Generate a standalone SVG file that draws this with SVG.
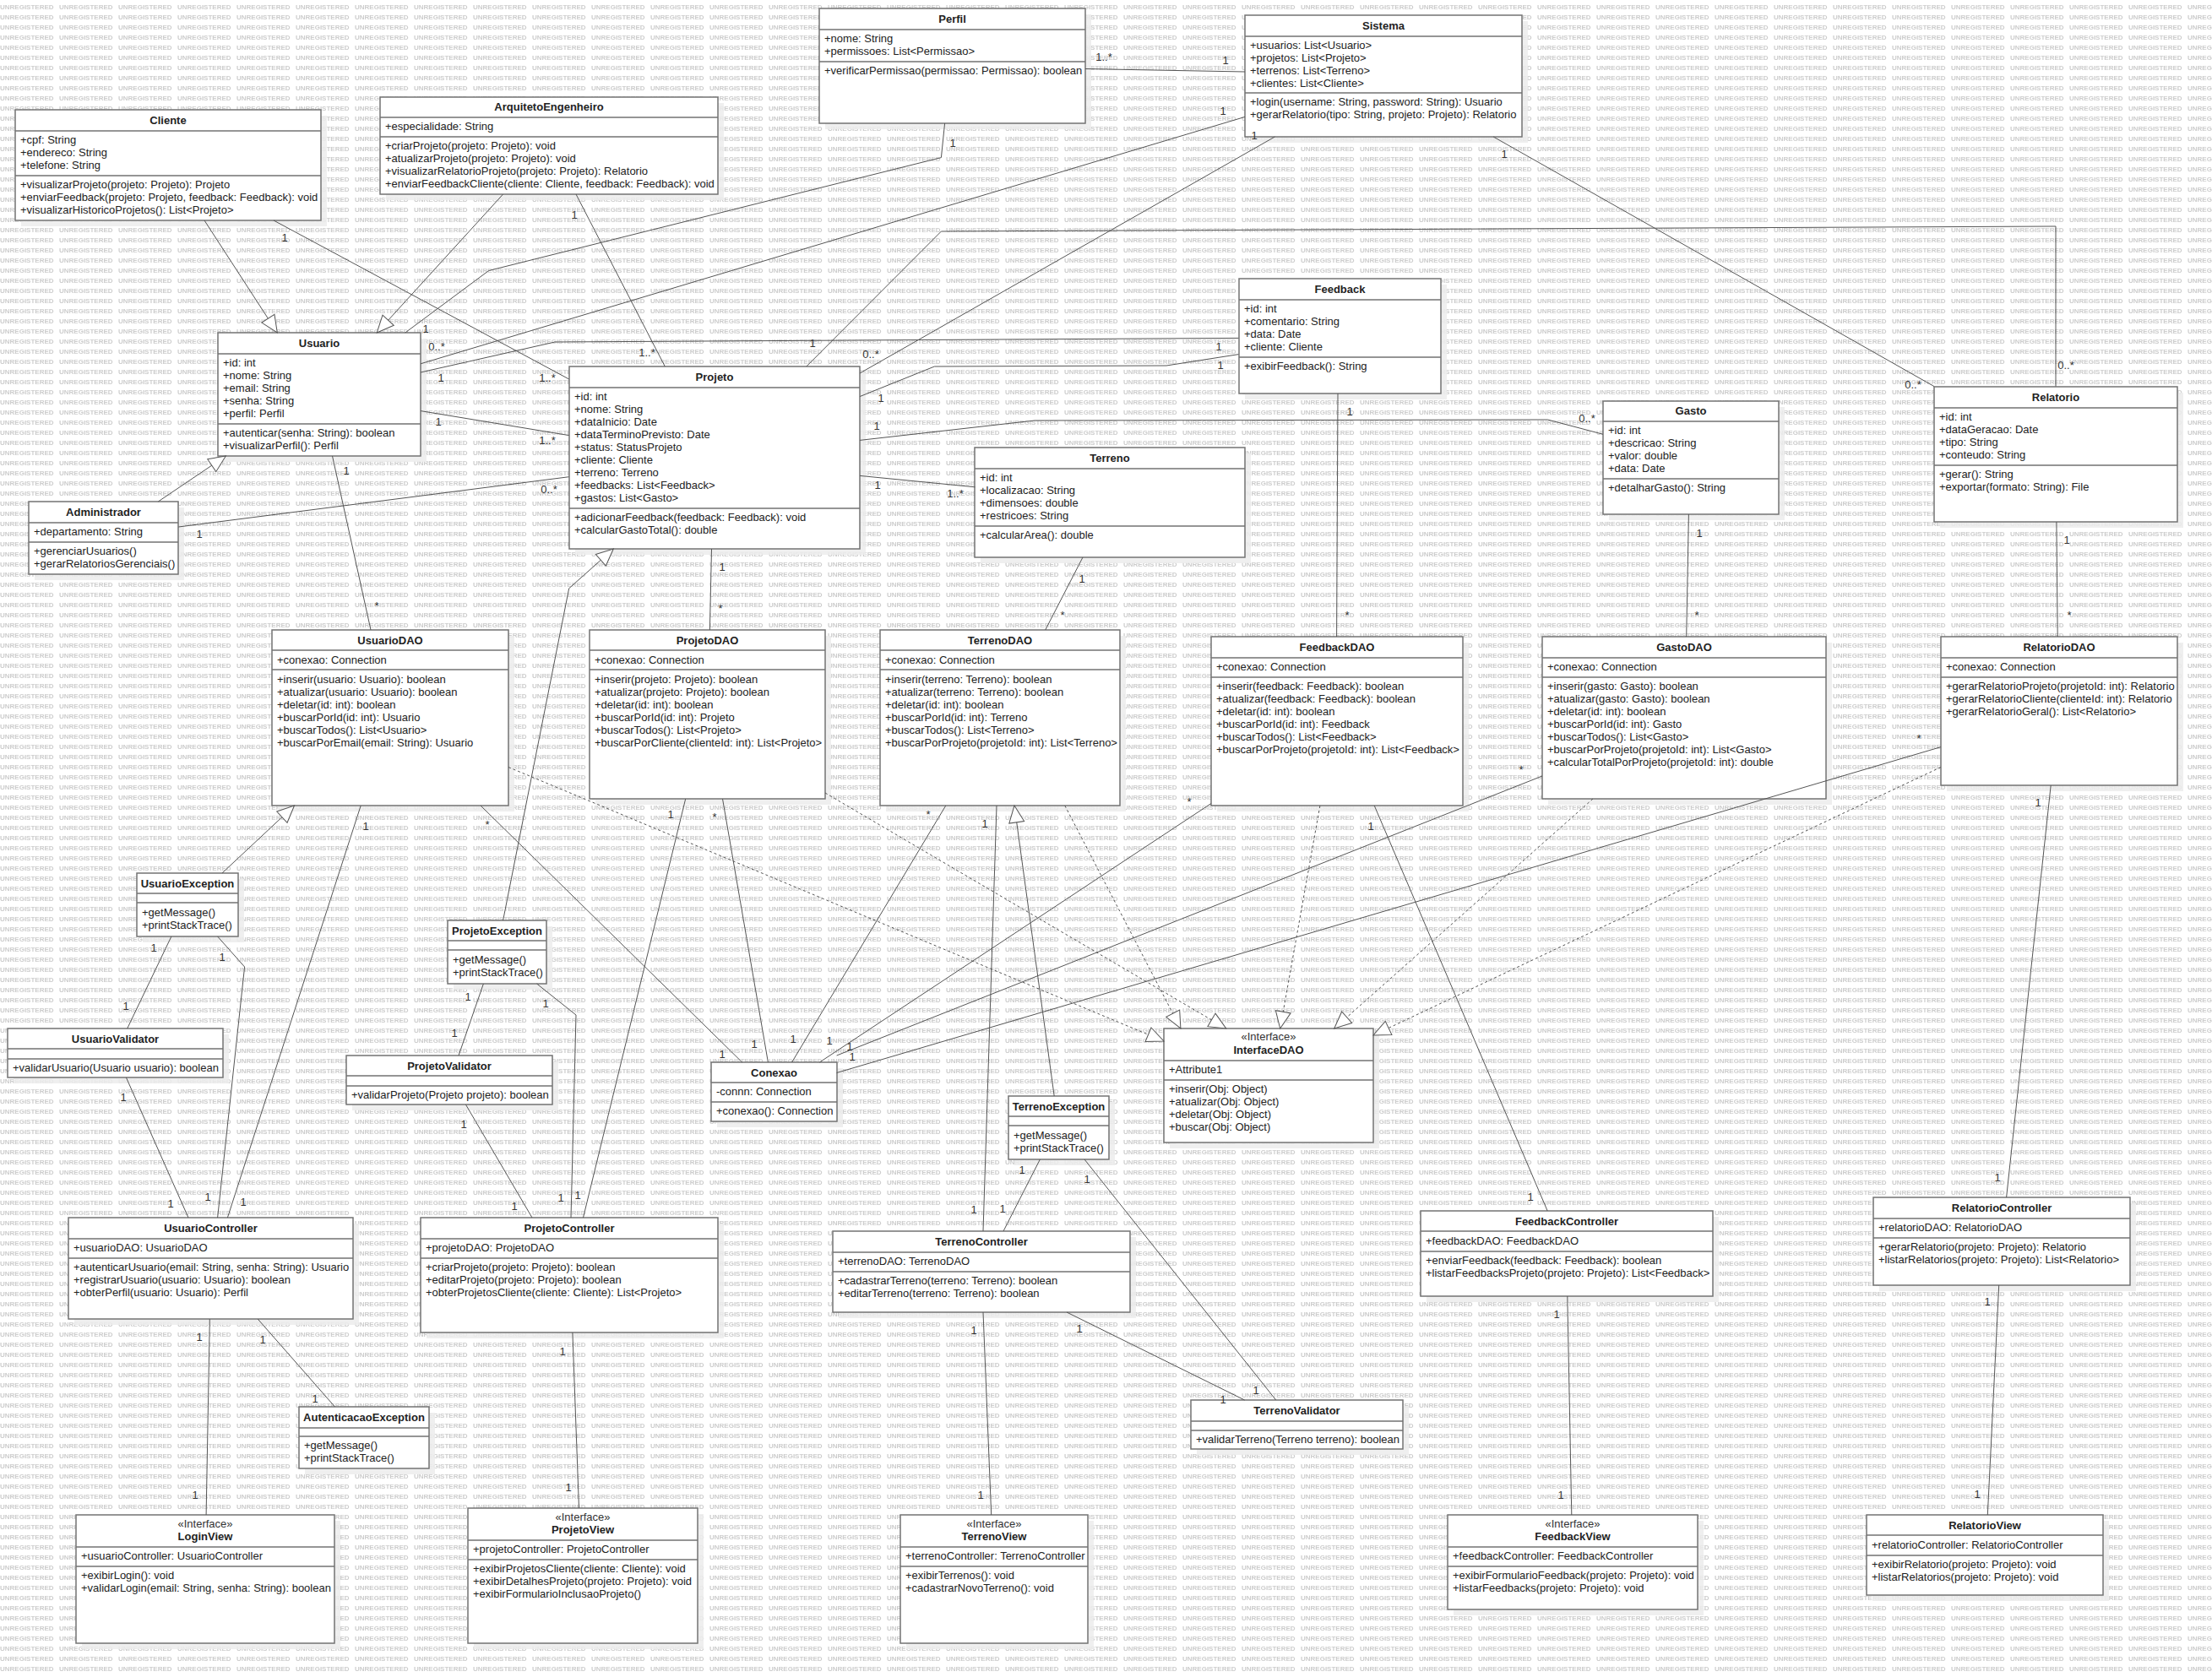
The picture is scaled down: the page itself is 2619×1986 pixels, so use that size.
<svg xmlns="http://www.w3.org/2000/svg" width="2619" height="1986" viewBox="0 0 2619 1986" font-family="'Liberation Sans', Arial, sans-serif" font-size="13">
<defs>
  <pattern id="wm" width="70" height="12" patternUnits="userSpaceOnUse">
    <text x="0" y="11" font-size="8" font-weight="bold" fill="#cdcdcd">UNREGISTERED</text>
  </pattern>
  <marker id="tri" markerUnits="userSpaceOnUse" markerWidth="24" markerHeight="24" viewBox="0 0 24 24" refX="22" refY="12" orient="auto">
    <path d="M2,3 L22,12 L2,21 Z" fill="#fff" stroke="#555" stroke-width="1" stroke-dasharray="none"/>
  </marker>
</defs>
<style>
  .sh { fill: #ececec; opacity: 0.85; }
  .bx { fill: #fff; stroke: #737373; stroke-width: 1.5; }
  .sep { stroke: #737373; stroke-width: 1.5; fill: none; }
  .nm { font-weight: bold; text-anchor: middle; fill: #222; }
  .st { text-anchor: middle; fill: #333; }
  .tx { fill: #222; }
  .c { fill: none; stroke: #555; stroke-width: 1; }
  .g { marker-end: url(#tri); }
  .d { stroke-dasharray: 3 3; marker-end: url(#tri); }
  .ml text { text-anchor: middle; fill: #333; font-size: 13px; }
</style>

<rect width="2619" height="1986" fill="#fff"/>
<rect width="2619" height="1986" fill="url(#wm)"/>

<!-- ===== class boxes ===== -->
<g id="Perfil">
  <rect class="sh" x="977" y="17" width="315" height="136"/>
  <rect class="bx" x="970" y="10" width="315" height="136"/>
  <path class="sep" d="M970,35H1285M970,73H1285"/>
  <text class="nm" x="1127.5" y="27">Perfil</text>
  <text class="tx"><tspan x="976" y="50">+nome: String</tspan><tspan x="976" y="65">+permissoes: List&lt;Permissao&gt;</tspan></text>
  <text class="tx"><tspan x="976" y="88">+verificarPermissao(permissao: Permissao): boolean</tspan></text>
</g>

<g id="Sistema">
  <rect class="sh" x="1481" y="25" width="328" height="144"/>
  <rect class="bx" x="1474" y="18" width="328" height="144"/>
  <path class="sep" d="M1474,43H1802M1474,110H1802"/>
  <text class="nm" x="1638" y="35">Sistema</text>
  <text class="tx"><tspan x="1480" y="58">+usuarios: List&lt;Usuario&gt;</tspan><tspan x="1480" y="73">+projetos: List&lt;Projeto&gt;</tspan><tspan x="1480" y="88">+terrenos: List&lt;Terreno&gt;</tspan><tspan x="1480" y="103">+clientes: List&lt;Cliente&gt;</tspan></text>
  <text class="tx"><tspan x="1480" y="125">+login(username: String, password: String): Usuario</tspan><tspan x="1480" y="140">+gerarRelatorio(tipo: String, projeto: Projeto): Relatorio</tspan></text>
</g>

<g id="ArquitetoEngenheiro">
  <rect class="sh" x="457" y="122" width="400" height="115"/>
  <rect class="bx" x="450" y="115" width="400" height="115"/>
  <path class="sep" d="M450,139H850M450,162H850"/>
  <text class="nm" x="650" y="131">ArquitetoEngenheiro</text>
  <text class="tx"><tspan x="456" y="154">+especialidade: String</tspan></text>
  <text class="tx"><tspan x="456" y="177">+criarProjeto(projeto: Projeto): void</tspan><tspan x="456" y="192">+atualizarProjeto(projeto: Projeto): void</tspan><tspan x="456" y="207">+visualizarRelatorioProjeto(projeto: Projeto): Relatorio</tspan><tspan x="456" y="222">+enviarFeedbackCliente(cliente: Cliente, feedback: Feedback): void</tspan></text>
</g>

<g id="Cliente">
  <rect class="sh" x="25" y="137" width="362" height="131"/>
  <rect class="bx" x="18" y="130" width="362" height="131"/>
  <path class="sep" d="M18,155H380M18,208H380"/>
  <text class="nm" x="199" y="147">Cliente</text>
  <text class="tx"><tspan x="24" y="170">+cpf: String</tspan><tspan x="24" y="185">+endereco: String</tspan><tspan x="24" y="200">+telefone: String</tspan></text>
  <text class="tx"><tspan x="24" y="223">+visualizarProjeto(projeto: Projeto): Projeto</tspan><tspan x="24" y="238">+enviarFeedback(projeto: Projeto, feedback: Feedback): void</tspan><tspan x="24" y="253">+visualizarHistoricoProjetos(): List&lt;Projeto&gt;</tspan></text>
</g>

<g id="Usuario">
  <rect class="sh" x="265" y="401" width="240" height="146"/>
  <rect class="bx" x="258" y="394" width="240" height="146"/>
  <path class="sep" d="M258,419H498M258,502H498"/>
  <text class="nm" x="378" y="411">Usuario</text>
  <text class="tx"><tspan x="264" y="434">+id: int</tspan><tspan x="264" y="449">+nome: String</tspan><tspan x="264" y="464">+email: String</tspan><tspan x="264" y="479">+senha: String</tspan><tspan x="264" y="494">+perfil: Perfil</tspan></text>
  <text class="tx"><tspan x="264" y="517">+autenticar(senha: String): boolean</tspan><tspan x="264" y="532">+visualizarPerfil(): Perfil</tspan></text>
</g>

<g id="Administrador">
  <rect class="sh" x="41" y="601" width="177" height="86"/>
  <rect class="bx" x="34" y="594" width="177" height="86"/>
  <path class="sep" d="M34,619H211M34,642H211"/>
  <text class="nm" x="122.5" y="611">Administrador</text>
  <text class="tx"><tspan x="40" y="634">+departamento: String</tspan></text>
  <text class="tx"><tspan x="40" y="657">+gerenciarUsuarios()</tspan><tspan x="40" y="672">+gerarRelatoriosGerenciais()</tspan></text>
</g>

<g id="Projeto">
  <rect class="sh" x="681" y="441" width="344" height="216"/>
  <rect class="bx" x="674" y="434" width="344" height="216"/>
  <path class="sep" d="M674,459H1018M674,602H1018"/>
  <text class="nm" x="846" y="451">Projeto</text>
  <text class="tx"><tspan x="680" y="474">+id: int</tspan><tspan x="680" y="489">+nome: String</tspan><tspan x="680" y="504">+dataInicio: Date</tspan><tspan x="680" y="519">+dataTerminoPrevisto: Date</tspan><tspan x="680" y="534">+status: StatusProjeto</tspan><tspan x="680" y="549">+cliente: Cliente</tspan><tspan x="680" y="564">+terreno: Terreno</tspan><tspan x="680" y="579">+feedbacks: List&lt;Feedback&gt;</tspan><tspan x="680" y="594">+gastos: List&lt;Gasto&gt;</tspan></text>
  <text class="tx"><tspan x="680" y="617">+adicionarFeedback(feedback: Feedback): void</tspan><tspan x="680" y="632">+calcularGastoTotal(): double</tspan></text>
</g>

<g id="Feedback">
  <rect class="sh" x="1474" y="337" width="239" height="136"/>
  <rect class="bx" x="1467" y="330" width="239" height="136"/>
  <path class="sep" d="M1467,355H1706M1467,423H1706"/>
  <text class="nm" x="1586.5" y="347">Feedback</text>
  <text class="tx"><tspan x="1473" y="370">+id: int</tspan><tspan x="1473" y="385">+comentario: String</tspan><tspan x="1473" y="400">+data: Date</tspan><tspan x="1473" y="415">+cliente: Cliente</tspan></text>
  <text class="tx"><tspan x="1473" y="438">+exibirFeedback(): String</tspan></text>
</g>

<g id="Terreno">
  <rect class="sh" x="1161" y="537" width="320" height="130"/>
  <rect class="bx" x="1154" y="530" width="320" height="130"/>
  <path class="sep" d="M1154,555H1474M1154,623H1474"/>
  <text class="nm" x="1314" y="547">Terreno</text>
  <text class="tx"><tspan x="1160" y="570">+id: int</tspan><tspan x="1160" y="585">+localizacao: String</tspan><tspan x="1160" y="600">+dimensoes: double</tspan><tspan x="1160" y="615">+restricoes: String</tspan></text>
  <text class="tx"><tspan x="1160" y="638">+calcularArea(): double</tspan></text>
</g>

<g id="Gasto">
  <rect class="sh" x="1905" y="482" width="208" height="134"/>
  <rect class="bx" x="1898" y="475" width="208" height="134"/>
  <path class="sep" d="M1898,499H2106M1898,567H2106"/>
  <text class="nm" x="2002" y="491">Gasto</text>
  <text class="tx"><tspan x="1904" y="514">+id: int</tspan><tspan x="1904" y="529">+descricao: String</tspan><tspan x="1904" y="544">+valor: double</tspan><tspan x="1904" y="559">+data: Date</tspan></text>
  <text class="tx"><tspan x="1904" y="582">+detalharGasto(): String</tspan></text>
</g>

<g id="Relatorio">
  <rect class="sh" x="2297" y="465" width="288" height="160"/>
  <rect class="bx" x="2290" y="458" width="288" height="160"/>
  <path class="sep" d="M2290,483H2578M2290,551H2578"/>
  <text class="nm" x="2434" y="475">Relatorio</text>
  <text class="tx"><tspan x="2296" y="498">+id: int</tspan><tspan x="2296" y="513">+dataGeracao: Date</tspan><tspan x="2296" y="528">+tipo: String</tspan><tspan x="2296" y="543">+conteudo: String</tspan></text>
  <text class="tx"><tspan x="2296" y="566">+gerar(): String</tspan><tspan x="2296" y="581">+exportar(formato: String): File</tspan></text>
</g>

<g id="UsuarioDAO">
  <rect class="sh" x="329" y="753" width="280" height="208"/>
  <rect class="bx" x="322" y="746" width="280" height="208"/>
  <path class="sep" d="M322,770H602M322,793H602"/>
  <text class="nm" x="462" y="763">UsuarioDAO</text>
  <text class="tx"><tspan x="328" y="786">+conexao: Connection</tspan></text>
  <text class="tx"><tspan x="328" y="809">+inserir(usuario: Usuario): boolean</tspan><tspan x="328" y="824">+atualizar(usuario: Usuario): boolean</tspan><tspan x="328" y="839">+deletar(id: int): boolean</tspan><tspan x="328" y="854">+buscarPorId(id: int): Usuario</tspan><tspan x="328" y="869">+buscarTodos(): List&lt;Usuario&gt;</tspan><tspan x="328" y="884">+buscarPorEmail(email: String): Usuario</tspan></text>
</g>

<g id="ProjetoDAO">
  <rect class="sh" x="705" y="753" width="279" height="200"/>
  <rect class="bx" x="698" y="746" width="279" height="200"/>
  <path class="sep" d="M698,770H977M698,793H977"/>
  <text class="nm" x="837.5" y="763">ProjetoDAO</text>
  <text class="tx"><tspan x="704" y="786">+conexao: Connection</tspan></text>
  <text class="tx"><tspan x="704" y="809">+inserir(projeto: Projeto): boolean</tspan><tspan x="704" y="824">+atualizar(projeto: Projeto): boolean</tspan><tspan x="704" y="839">+deletar(id: int): boolean</tspan><tspan x="704" y="854">+buscarPorId(id: int): Projeto</tspan><tspan x="704" y="869">+buscarTodos(): List&lt;Projeto&gt;</tspan><tspan x="704" y="884">+buscarPorCliente(clienteId: int): List&lt;Projeto&gt;</tspan></text>
</g>

<g id="TerrenoDAO">
  <rect class="sh" x="1049" y="753" width="284" height="208"/>
  <rect class="bx" x="1042" y="746" width="284" height="208"/>
  <path class="sep" d="M1042,770H1326M1042,793H1326"/>
  <text class="nm" x="1184" y="763">TerrenoDAO</text>
  <text class="tx"><tspan x="1048" y="786">+conexao: Connection</tspan></text>
  <text class="tx"><tspan x="1048" y="809">+inserir(terreno: Terreno): boolean</tspan><tspan x="1048" y="824">+atualizar(terreno: Terreno): boolean</tspan><tspan x="1048" y="839">+deletar(id: int): boolean</tspan><tspan x="1048" y="854">+buscarPorId(id: int): Terreno</tspan><tspan x="1048" y="869">+buscarTodos(): List&lt;Terreno&gt;</tspan><tspan x="1048" y="884">+buscarPorProjeto(projetoId: int): List&lt;Terreno&gt;</tspan></text>
</g>

<g id="FeedbackDAO">
  <rect class="sh" x="1441" y="761" width="298" height="200"/>
  <rect class="bx" x="1434" y="754" width="298" height="200"/>
  <path class="sep" d="M1434,779H1732M1434,802H1732"/>
  <text class="nm" x="1583" y="771">FeedbackDAO</text>
  <text class="tx"><tspan x="1440" y="794">+conexao: Connection</tspan></text>
  <text class="tx"><tspan x="1440" y="817">+inserir(feedback: Feedback): boolean</tspan><tspan x="1440" y="832">+atualizar(feedback: Feedback): boolean</tspan><tspan x="1440" y="847">+deletar(id: int): boolean</tspan><tspan x="1440" y="862">+buscarPorId(id: int): Feedback</tspan><tspan x="1440" y="877">+buscarTodos(): List&lt;Feedback&gt;</tspan><tspan x="1440" y="892">+buscarPorProjeto(projetoId: int): List&lt;Feedback&gt;</tspan></text>
</g>

<g id="GastoDAO">
  <rect class="sh" x="1833" y="761" width="336" height="192"/>
  <rect class="bx" x="1826" y="754" width="336" height="192"/>
  <path class="sep" d="M1826,779H2162M1826,802H2162"/>
  <text class="nm" x="1994" y="771">GastoDAO</text>
  <text class="tx"><tspan x="1832" y="794">+conexao: Connection</tspan></text>
  <text class="tx"><tspan x="1832" y="817">+inserir(gasto: Gasto): boolean</tspan><tspan x="1832" y="832">+atualizar(gasto: Gasto): boolean</tspan><tspan x="1832" y="847">+deletar(id: int): boolean</tspan><tspan x="1832" y="862">+buscarPorId(id: int): Gasto</tspan><tspan x="1832" y="877">+buscarTodos(): List&lt;Gasto&gt;</tspan><tspan x="1832" y="892">+buscarPorProjeto(projetoId: int): List&lt;Gasto&gt;</tspan><tspan x="1832" y="907">+calcularTotalPorProjeto(projetoId: int): double</tspan></text>
</g>

<g id="RelatorioDAO">
  <rect class="sh" x="2305" y="761" width="280" height="176"/>
  <rect class="bx" x="2298" y="754" width="280" height="176"/>
  <path class="sep" d="M2298,779H2578M2298,802H2578"/>
  <text class="nm" x="2438" y="771">RelatorioDAO</text>
  <text class="tx"><tspan x="2304" y="794">+conexao: Connection</tspan></text>
  <text class="tx"><tspan x="2304" y="817">+gerarRelatorioProjeto(projetoId: int): Relatorio</tspan><tspan x="2304" y="832">+gerarRelatorioCliente(clienteId: int): Relatorio</tspan><tspan x="2304" y="847">+gerarRelatorioGeral(): List&lt;Relatorio&gt;</tspan></text>
</g>

<g id="UsuarioException">
  <rect class="sh" x="169" y="1041" width="120" height="75"/>
  <rect class="bx" x="162" y="1034" width="120" height="75"/>
  <path class="sep" d="M162,1058H282M162,1069H282"/>
  <text class="nm" x="222" y="1051">UsuarioException</text>
  <text class="tx"><tspan x="168" y="1085">+getMessage()</tspan><tspan x="168" y="1100">+printStackTrace()</tspan></text>
</g>

<g id="ProjetoException">
  <rect class="sh" x="537" y="1097" width="117" height="75"/>
  <rect class="bx" x="530" y="1090" width="117" height="75"/>
  <path class="sep" d="M530,1114H647M530,1125H647"/>
  <text class="nm" x="588.5" y="1107">ProjetoException</text>
  <text class="tx"><tspan x="536" y="1141">+getMessage()</tspan><tspan x="536" y="1156">+printStackTrace()</tspan></text>
</g>

<g id="UsuarioValidator">
  <rect class="sh" x="16" y="1225" width="255" height="58"/>
  <rect class="bx" x="9" y="1218" width="255" height="58"/>
  <path class="sep" d="M9,1242H264M9,1254H264"/>
  <text class="nm" x="136.5" y="1235">UsuarioValidator</text>
  <text class="tx"><tspan x="15" y="1269">+validarUsuario(Usuario usuario): boolean</tspan></text>
</g>

<g id="ProjetoValidator">
  <rect class="sh" x="417" y="1257" width="244" height="58"/>
  <rect class="bx" x="410" y="1250" width="244" height="58"/>
  <path class="sep" d="M410,1274H654M410,1286H654"/>
  <text class="nm" x="532" y="1267">ProjetoValidator</text>
  <text class="tx"><tspan x="416" y="1301">+validarProjeto(Projeto projeto): boolean</tspan></text>
</g>

<g id="Conexao">
  <rect class="sh" x="849" y="1265" width="149" height="70"/>
  <rect class="bx" x="842" y="1258" width="149" height="70"/>
  <path class="sep" d="M842,1282H991M842,1305H991"/>
  <text class="nm" x="916.5" y="1275">Conexao</text>
  <text class="tx"><tspan x="848" y="1297">-connn: Connection</tspan></text>
  <text class="tx"><tspan x="848" y="1320">+conexao(): Connection</tspan></text>
</g>

<g id="InterfaceDAO">
  <rect class="sh" x="1385" y="1225" width="248" height="135"/>
  <rect class="bx" x="1378" y="1218" width="248" height="135"/>
  <path class="sep" d="M1378,1256H1626M1378,1279H1626"/>
  <text class="st" x="1502" y="1232">«Interface»</text>
  <text class="nm" x="1502" y="1248">InterfaceDAO</text>
  <text class="tx"><tspan x="1384" y="1271">+Attribute1</tspan></text>
  <text class="tx"><tspan x="1384" y="1294">+inserir(Obj: Object)</tspan><tspan x="1384" y="1309">+atualizar(Obj: Object)</tspan><tspan x="1384" y="1324">+deletar(Obj: Object)</tspan><tspan x="1384" y="1339">+buscar(Obj: Object)</tspan></text>
</g>

<g id="TerrenoException">
  <rect class="sh" x="1201" y="1305" width="119" height="75"/>
  <rect class="bx" x="1194" y="1298" width="119" height="75"/>
  <path class="sep" d="M1194,1322H1313M1194,1333H1313"/>
  <text class="nm" x="1253.5" y="1315">TerrenoException</text>
  <text class="tx"><tspan x="1200" y="1349">+getMessage()</tspan><tspan x="1200" y="1364">+printStackTrace()</tspan></text>
</g>

<g id="UsuarioController">
  <rect class="sh" x="88" y="1449" width="337" height="120"/>
  <rect class="bx" x="81" y="1442" width="337" height="120"/>
  <path class="sep" d="M81,1467H418M81,1490H418"/>
  <text class="nm" x="249.5" y="1459">UsuarioController</text>
  <text class="tx"><tspan x="87" y="1482">+usuarioDAO: UsuarioDAO</tspan></text>
  <text class="tx"><tspan x="87" y="1505">+autenticarUsuario(email: String, senha: String): Usuario</tspan><tspan x="87" y="1520">+registrarUsuario(usuario: Usuario): boolean</tspan><tspan x="87" y="1535">+obterPerfil(usuario: Usuario): Perfil</tspan></text>
</g>

<g id="ProjetoController">
  <rect class="sh" x="505" y="1449" width="352" height="136"/>
  <rect class="bx" x="498" y="1442" width="352" height="136"/>
  <path class="sep" d="M498,1467H850M498,1490H850"/>
  <text class="nm" x="674" y="1459">ProjetoController</text>
  <text class="tx"><tspan x="504" y="1482">+projetoDAO: ProjetoDAO</tspan></text>
  <text class="tx"><tspan x="504" y="1505">+criarProjeto(projeto: Projeto): boolean</tspan><tspan x="504" y="1520">+editarProjeto(projeto: Projeto): boolean</tspan><tspan x="504" y="1535">+obterProjetosCliente(cliente: Cliente): List&lt;Projeto&gt;</tspan></text>
</g>

<g id="TerrenoController">
  <rect class="sh" x="993" y="1465" width="352" height="96"/>
  <rect class="bx" x="986" y="1458" width="352" height="96"/>
  <path class="sep" d="M986,1483H1338M986,1506H1338"/>
  <text class="nm" x="1162" y="1475">TerrenoController</text>
  <text class="tx"><tspan x="992" y="1498">+terrenoDAO: TerrenoDAO</tspan></text>
  <text class="tx"><tspan x="992" y="1521">+cadastrarTerreno(terreno: Terreno): boolean</tspan><tspan x="992" y="1536">+editarTerreno(terreno: Terreno): boolean</tspan></text>
</g>

<g id="FeedbackController">
  <rect class="sh" x="1689" y="1441" width="346" height="101"/>
  <rect class="bx" x="1682" y="1434" width="346" height="101"/>
  <path class="sep" d="M1682,1458H2028M1682,1482H2028"/>
  <text class="nm" x="1855" y="1451">FeedbackController</text>
  <text class="tx"><tspan x="1688" y="1474">+feedbackDAO: FeedbackDAO</tspan></text>
  <text class="tx"><tspan x="1688" y="1497">+enviarFeedback(feedback: Feedback): boolean</tspan><tspan x="1688" y="1512">+listarFeedbacksProjeto(projeto: Projeto): List&lt;Feedback&gt;</tspan></text>
</g>

<g id="RelatorioController">
  <rect class="sh" x="2225" y="1425" width="304" height="104"/>
  <rect class="bx" x="2218" y="1418" width="304" height="104"/>
  <path class="sep" d="M2218,1443H2522M2218,1466H2522"/>
  <text class="nm" x="2370" y="1435">RelatorioController</text>
  <text class="tx"><tspan x="2224" y="1458">+relatorioDAO: RelatorioDAO</tspan></text>
  <text class="tx"><tspan x="2224" y="1481">+gerarRelatorio(projeto: Projeto): Relatorio</tspan><tspan x="2224" y="1496">+listarRelatorios(projeto: Projeto): List&lt;Relatorio&gt;</tspan></text>
</g>

<g id="AutenticacaoException">
  <rect class="sh" x="361" y="1673" width="154" height="73"/>
  <rect class="bx" x="354" y="1666" width="154" height="73"/>
  <path class="sep" d="M354,1691H508M354,1701H508"/>
  <text class="nm" x="431" y="1683">AutenticacaoException</text>
  <text class="tx"><tspan x="360" y="1716">+getMessage()</tspan><tspan x="360" y="1731">+printStackTrace()</tspan></text>
</g>

<g id="TerrenoValidator">
  <rect class="sh" x="1417" y="1665" width="251" height="58"/>
  <rect class="bx" x="1410" y="1658" width="251" height="58"/>
  <path class="sep" d="M1410,1683H1661M1410,1694H1661"/>
  <text class="nm" x="1535.5" y="1675">TerrenoValidator</text>
  <text class="tx"><tspan x="1416" y="1709">+validarTerreno(Terreno terreno): boolean</tspan></text>
</g>

<g id="LoginView">
  <rect class="sh" x="97" y="1801" width="306" height="152"/>
  <rect class="bx" x="90" y="1794" width="306" height="152"/>
  <path class="sep" d="M90,1832H396M90,1855H396"/>
  <text class="st" x="243" y="1809">«Interface»</text>
  <text class="nm" x="243" y="1824">LoginView</text>
  <text class="tx"><tspan x="96" y="1847">+usuarioController: UsuarioController</tspan></text>
  <text class="tx"><tspan x="96" y="1870">+exibirLogin(): void</tspan><tspan x="96" y="1885">+validarLogin(email: String, senha: String): boolean</tspan></text>
</g>

<g id="ProjetoView">
  <rect class="sh" x="561" y="1793" width="272" height="160"/>
  <rect class="bx" x="554" y="1786" width="272" height="160"/>
  <path class="sep" d="M554,1824H826M554,1847H826"/>
  <text class="st" x="690" y="1801">«Interface»</text>
  <text class="nm" x="690" y="1816">ProjetoView</text>
  <text class="tx"><tspan x="560" y="1839">+projetoController: ProjetoController</tspan></text>
  <text class="tx"><tspan x="560" y="1862">+exibirProjetosCliente(cliente: Cliente): void</tspan><tspan x="560" y="1877">+exibirDetalhesProjeto(projeto: Projeto): void</tspan><tspan x="560" y="1892">+exibirFormularioInclusaoProjeto()</tspan></text>
</g>

<g id="TerrenoView">
  <rect class="sh" x="1073" y="1801" width="222" height="152"/>
  <rect class="bx" x="1066" y="1794" width="222" height="152"/>
  <path class="sep" d="M1066,1832H1288M1066,1855H1288"/>
  <text class="st" x="1177" y="1809">«Interface»</text>
  <text class="nm" x="1177" y="1824">TerrenoView</text>
  <text class="tx"><tspan x="1072" y="1847">+terrenoController: TerrenoController</tspan></text>
  <text class="tx"><tspan x="1072" y="1870">+exibirTerrenos(): void</tspan><tspan x="1072" y="1885">+cadastrarNovoTerreno(): void</tspan></text>
</g>

<g id="FeedbackView">
  <rect class="sh" x="1721" y="1801" width="296" height="112"/>
  <rect class="bx" x="1714" y="1794" width="296" height="112"/>
  <path class="sep" d="M1714,1832H2010M1714,1855H2010"/>
  <text class="st" x="1862" y="1809">«Interface»</text>
  <text class="nm" x="1862" y="1824">FeedbackView</text>
  <text class="tx"><tspan x="1720" y="1847">+feedbackController: FeedbackController</tspan></text>
  <text class="tx"><tspan x="1720" y="1870">+exibirFormularioFeedback(projeto: Projeto): void</tspan><tspan x="1720" y="1885">+listarFeedbacks(projeto: Projeto): void</tspan></text>
</g>

<g id="RelatorioView">
  <rect class="sh" x="2217" y="1801" width="280" height="95"/>
  <rect class="bx" x="2210" y="1794" width="280" height="95"/>
  <path class="sep" d="M2210,1818H2490M2210,1842H2490"/>
  <text class="nm" x="2350" y="1811">RelatorioView</text>
  <text class="tx"><tspan x="2216" y="1834">+relatorioController: RelatorioController</tspan></text>
  <text class="tx"><tspan x="2216" y="1857">+exibirRelatorio(projeto: Projeto): void</tspan><tspan x="2216" y="1872">+listarRelatorios(projeto: Projeto): void</tspan></text>
</g>

<!-- ===== connectors ===== -->
<g id="connectors">
  <!-- associations -->
  <path class="c" d="M1285,81.5L1474,85"/>
  <path class="c" d="M1118.6,146L1114.4,186.6L578.7,320.5L479.8,394"/>
  <path class="c" d="M1474,138.4L498,430.8"/>
  <path class="c" d="M1509.4,162L1018,442"/>
  <path class="c" d="M1768.2,162L2290,457.6"/>
  <path class="c" d="M324,261L673.7,449"/>
  <path class="c" d="M682,230L787.3,434"/>
  <path class="c" d="M498,441L657,405L1466.5,400.4"/>
  <path class="c" d="M498,486.6L673.7,515.6"/>
  <path class="c" d="M211.3,624L673.7,564.7"/>
  <path class="c" d="M954.8,434L1114.4,274L2434,268L2434,457.6"/>
  <path class="c" d="M1018,469.6L1106.4,434L1381,433L1466.5,419.6"/>
  <path class="c" d="M1018,521.4L1225,498L1832.6,497L1898,514.3"/>
  <path class="c" d="M1018,563.4L1154.4,576.8"/>
  <path class="c" d="M393.5,540L439,746"/>
  <path class="c" d="M842.5,650L840.4,746"/>
  <path class="c" d="M1282,660L1237.7,746"/>
  <path class="c" d="M1584,466L1582.6,754"/>
  <path class="c" d="M1999.4,609L1996.7,754"/>
  <path class="c" d="M2434.9,618L2436.2,754"/>
  <path class="c" d="M569,954L878.7,1258"/>
  <path class="c" d="M855.5,946L909.4,1258"/>
  <path class="c" d="M1119.8,954L937.6,1258"/>
  <path class="c" d="M1434,951.5L970.4,1258"/>
  <path class="c" d="M1826,919L990.6,1250"/>
  <path class="c" d="M2298,884.6L990.6,1270.5"/>
  <path class="c" d="M427.2,954L269.4,1442"/>
  <path class="c" d="M202.9,1109L150.7,1218"/>
  <path class="c" d="M257.6,1109L289.6,1145L257.6,1442"/>
  <path class="c" d="M149.4,1276L223,1442"/>
  <path class="c" d="M248.3,1562L244.1,1794"/>
  <path class="c" d="M305.2,1562L396.5,1666"/>
  <path class="c" d="M572.4,1165L543,1250"/>
  <path class="c" d="M635.6,1165L682,1202L676,1442"/>
  <path class="c" d="M811.7,946L690.5,1442"/>
  <path class="c" d="M551.4,1308L630,1442"/>
  <path class="c" d="M677.9,1578L685.5,1786"/>
  <path class="c" d="M1180,954L1164,1458"/>
  <path class="c" d="M1231.4,1373L1188,1458"/>
  <path class="c" d="M1284,1373L1510.7,1658"/>
  <path class="c" d="M1263,1554L1473.6,1658"/>
  <path class="c" d="M1164,1554L1173.7,1794"/>
  <path class="c" d="M1627.2,954L1832.2,1434"/>
  <path class="c" d="M1855.8,1535L1860.8,1794"/>
  <path class="c" d="M2428.2,930L2375.6,1418"/>
  <path class="c" d="M2366.7,1522L2353.3,1794"/>
  <!-- generalizations -->
  <path class="c g" d="M242,261L328.3,394"/>
  <path class="c g" d="M595.6,230L446.2,394"/>
  <path class="c g" d="M187.3,594L267.3,540"/>
  <path class="c g" d="M263,1034L348.5,954"/>
  <path class="c g" d="M595.6,1090L673.7,696.8L726.3,650"/>
  <path class="c g" d="M1248.2,1298L1201,954"/>
  <!-- realizations -->
  <path class="c d" d="M602,908.5L1378,1233"/>
  <path class="c d" d="M1260.8,954L1397.9,1218"/>
  <path class="c d" d="M977,939L1451.7,1218"/>
  <path class="c d" d="M1562.9,954L1515.7,1218"/>
  <path class="c d" d="M1886,946L1579.7,1218"/>
  <path class="c d" d="M2298,908.5L1626,1226"/>
</g>

<!-- ===== multiplicities ===== -->
<g id="multiplicities" class="ml">
  <text x="1307" y="72">1..*</text><text x="1451" y="76">1</text>
  <text x="1128" y="174">1</text><text x="504" y="394">1</text>
  <text x="1448" y="136">1</text><text x="517" y="415">0..*</text>
  <text x="1485" y="165">1</text><text x="1031" y="424">0..*</text>
  <text x="1781" y="187">1</text><text x="2265" y="460">0..*</text>
  <text x="337" y="286">1</text><text x="648" y="452">1..*</text>
  <text x="680" y="259">1</text><text x="766" y="422">1..*</text>
  <text x="522" y="452">1</text><text x="1443" y="415">1</text>
  <text x="519" y="504">1</text><text x="648" y="526">1..*</text>
  <text x="236" y="637">1</text><text x="650" y="584">0..*</text>
  <text x="962" y="411">1</text><text x="2446" y="437">0..*</text>
  <text x="1043" y="476">1</text><text x="1445" y="437">1</text>
  <text x="1038" y="509">1</text><text x="1879" y="500">0..*</text>
  <text x="1039" y="579">1</text><text x="1131" y="589">1..*</text>
  <text x="410" y="562">1</text><text x="446" y="722">*</text>
  <text x="855" y="676">1</text><text x="853" y="725">*</text>
  <text x="1281" y="690">1</text><text x="1258" y="733">*</text>
  <text x="1598" y="492">1</text><text x="1595" y="733">*</text>
  <text x="2012" y="636">1</text><text x="2009" y="733">*</text>
  <text x="2447" y="644">1</text><text x="2450" y="733">*</text>
  <text x="577" y="981">*</text><text x="855" y="1253">1</text>
  <text x="846" y="972">*</text><text x="893" y="1241">1</text>
  <text x="1099" y="969">*</text><text x="939" y="1235">1</text>
  <text x="1408" y="954">*</text><text x="982" y="1237">1</text>
  <text x="1801" y="916">*</text><text x="1006" y="1244">1</text>
  <text x="2272" y="879">*</text><text x="1009" y="1256">1</text>
  <text x="433" y="983">1</text><text x="288" y="1428">1</text>
  <text x="182" y="1127">1</text><text x="149" y="1196">1</text>
  <text x="263" y="1138">1</text><text x="246" y="1422">1</text>
  <text x="146" y="1304">1</text><text x="202" y="1430">1</text>
  <text x="236" y="1588">1</text><text x="231" y="1775">1</text>
  <text x="311" y="1591">1</text><text x="373" y="1661">1</text>
  <text x="554" y="1185">1</text><text x="538" y="1228">1</text>
  <text x="646" y="1193">1</text><text x="664" y="1423">1</text>
  <text x="794" y="969">1</text><text x="684" y="1420">1</text>
  <text x="549" y="1336">1</text><text x="609" y="1433">1</text>
  <text x="666" y="1605">1</text><text x="673" y="1766">1</text>
  <text x="1166" y="980">1</text><text x="1153" y="1437">1</text>
  <text x="1210" y="1390">1</text><text x="1187" y="1436">1</text>
  <text x="1287" y="1401">1</text><text x="1487" y="1651">1</text>
  <text x="1278" y="1578">1</text><text x="1448" y="1662">1</text>
  <text x="1153" y="1580">1</text><text x="1161" y="1775">1</text>
  <text x="1623" y="983">1</text><text x="1812" y="1422">1</text>
  <text x="1843" y="1561">1</text><text x="1848" y="1775">1</text>
  <text x="2413" y="955">1</text><text x="2365" y="1399">1</text>
  <text x="2353" y="1546">1</text><text x="2341" y="1774">1</text>
</g>
</svg>
